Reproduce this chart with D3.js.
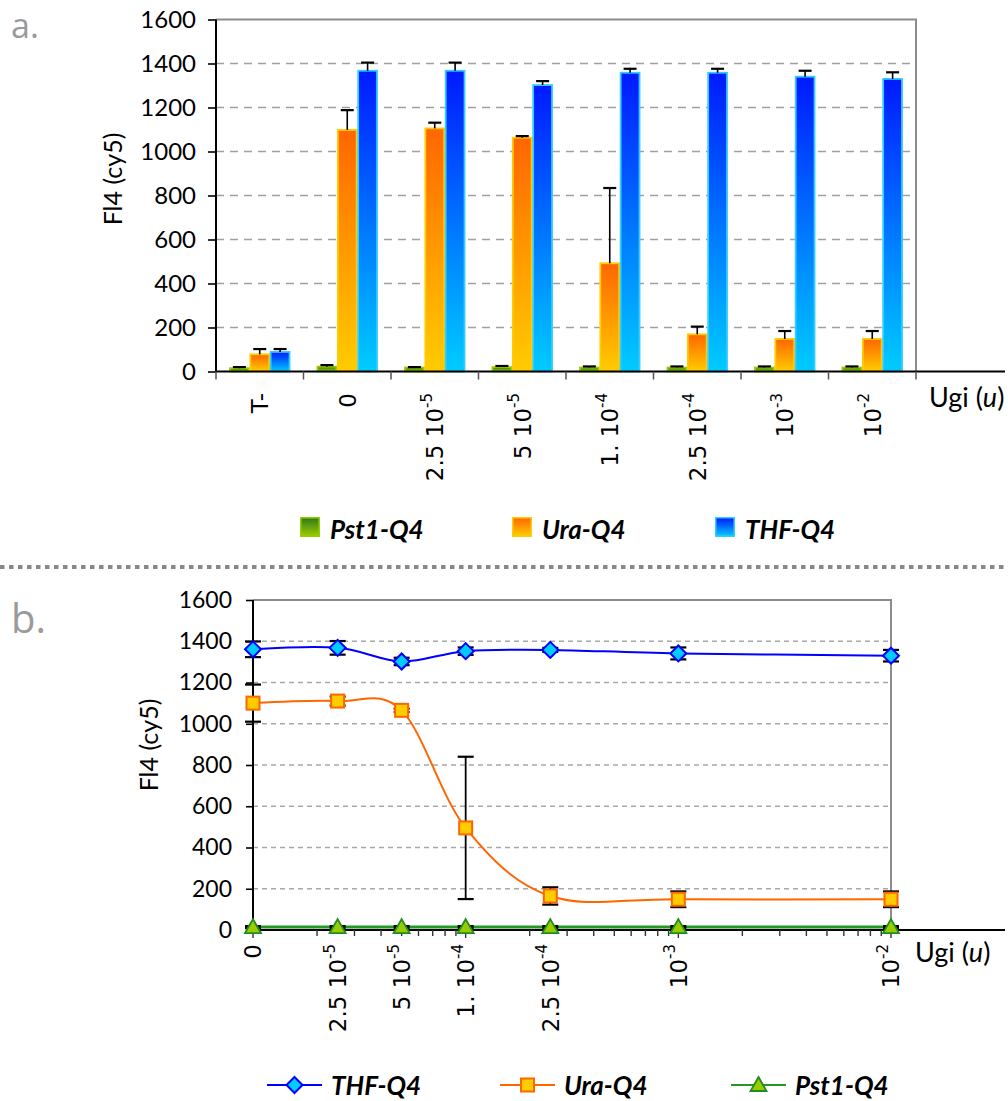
<!DOCTYPE html>
<html>
<head>
<meta charset="utf-8">
<script src="https://cdn.jsdelivr.net/npm/d3@7"></script>
<style>
  html, body { margin: 0; padding: 0; background: #fff; }
  svg { display: block; }
</style>
</head>
<body>
<svg id="chart" width="1008" height="1101"></svg>
<script>
// ---------------- DATA ----------------
// Panel a (bar chart)
const categoriesA = ["T-", "0", "2.5e-5", "5e-5", "1e-4", "2.5e-4", "1e-3", "1e-2"];
const labelBaseA  = ["T-", "0", "2.5 10", "5 10", "1. 10", "2.5 10", "10", "10"];
const labelExpA   = ["", "", "-5", "-5", "-4", "-4", "-3", "-2"];
const seriesNamesA = ["Pst1-Q4", "Ura-Q4", "THF-Q4"];
const pst1A    = [15, 22, 18, 20, 18, 18, 18, 18];
const pst1ErrA = [5, 7, 2, 5, 5, 5, 5, 5];
const uraA     = [78, 1098, 1105, 1063, 492, 169, 148, 148];
const uraErrA  = [24, 90, 26, 7, 342, 35, 36, 36];
const thfA     = [89, 1367, 1367, 1302, 1358, 1358, 1340, 1330];
const thfErrA  = [13, 37, 37, 18, 18, 18, 27, 30];

// Panel b (line chart, log x; "0" drawn at 1e-5)
const xValuesB  = [1e-5, 2.5e-5, 5e-5, 1e-4, 2.5e-4, 1e-3, 1e-2];
const labelBaseB = ["0", "2.5 10", "5 10", "1. 10", "2.5 10", "10", "10"];
const labelExpB  = ["", "-5", "-5", "-4", "-4", "-3", "-2"];
const thfB     = [1361, 1368, 1302, 1352, 1358, 1341, 1330];
const thfErrB  = [38, 33, 18, 18, 10, 29, 28];
const uraB     = [1100, 1110, 1065, 495, 165, 149, 149];
const uraErrB  = [90, 22, 8, 345, 42, 38, 38];
const pst1B    = [14, 14, 14, 14, 14, 14, 14];
const pst1ErrB = [5, 5, 5, 5, 5, 5, 5];

const yTicks = [0, 200, 400, 600, 800, 1000, 1200, 1400, 1600];

// ---------------- SETUP ----------------
const svg = d3.select("#chart");
const defs = svg.append("defs");
function grad(id, top, bottom) {
  const g = defs.append("linearGradient").attr("id", id)
    .attr("x1", 0).attr("y1", 0).attr("x2", 0).attr("y2", 1);
  g.append("stop").attr("offset", "0%").attr("stop-color", top);
  g.append("stop").attr("offset", "100%").attr("stop-color", bottom);
}
grad("gGreen", "#2f7a1c", "#99cc00");
grad("gOrange", "#ff6600", "#ffcc00");
grad("gBlue", "#0019ff", "#00ccff");
const fills = ["url(#gGreen)", "url(#gOrange)", "url(#gBlue)"];
const strokes = ["#99cc00", "#ffcc00", "#33ccff"];

const font = "Lato, 'Open Sans', sans-serif";
const tickFont = "'DejaVu Sans', Verdana, sans-serif";

// panel letters
svg.append("text").attr("x", 11).attr("y", 38).text("a.")
  .attr("font-family", "'Open Sans', sans-serif").attr("font-size", 34).attr("fill", "#9a9a9a");
svg.append("text").attr("x", 11).attr("y", 633).text("b.")
  .attr("font-family", "'Open Sans', sans-serif").attr("font-size", 40).attr("fill", "#9a9a9a");

// separator
svg.append("line").attr("x1", 0).attr("x2", 1008).attr("y1", 567).attr("y2", 567)
  .attr("stroke", "#888").attr("stroke-width", 4).attr("stroke-dasharray", "4.5,4.5");

// ---------------- PANEL A ----------------
const ax0 = 216, ax1 = 916, ayTop = 19.5, ayBot = 371.5;
const xA = d3.scaleBand().domain(categoriesA).range([ax0, ax1]).padding(0);
const xInner = d3.scaleBand().domain(seriesNamesA).range([0, xA.bandwidth()]).paddingInner(0).paddingOuter(0.65);
const yA = d3.scaleLinear().domain([0, 1600]).range([ayBot, ayTop]);
const gA = svg.append("g");

// gridlines
gA.append("g").selectAll("line").data(yTicks.filter(d => d > 0 && d < 1600)).join("line")
  .attr("x1", ax0).attr("x2", ax1).attr("y1", d => yA(d)).attr("y2", d => yA(d))
  .attr("stroke", "#a0a0a0").attr("stroke-width", 1.3).attr("stroke-dasharray", "8,6");
// top & right border
gA.append("path").attr("d", `M${ax0},${ayTop}H${ax1}V${ayBot}`)
  .attr("fill", "none").attr("stroke", "#8c8c8c").attr("stroke-width", 2);

// bars
const seriesA = [
  { name: seriesNamesA[0], vals: pst1A, errs: pst1ErrA },
  { name: seriesNamesA[1], vals: uraA, errs: uraErrA },
  { name: seriesNamesA[2], vals: thfA, errs: thfErrA }
];
seriesA.forEach((s, si) => {
  const g = gA.append("g");
  const data = categoriesA.map((c, i) => ({ c, v: s.vals[i], e: s.errs[i] }));
  g.selectAll("rect").data(data).join("rect")
    .attr("x", d => xA(d.c) + xInner(s.name) + 0.75)
    .attr("width", xInner.bandwidth() - 1.5)
    .attr("y", d => yA(d.v))
    .attr("height", d => ayBot - yA(d.v))
    .attr("fill", fills[si]).attr("stroke", strokes[si]).attr("stroke-width", 1.8);
  const cx = d => xA(d.c) + xInner(s.name) + xInner.bandwidth() / 2;
  g.selectAll("line.v").data(data).join("line").attr("class", "v")
    .attr("x1", cx).attr("x2", cx).attr("y1", d => yA(d.v)).attr("y2", d => yA(d.v + d.e))
    .attr("stroke", "#000").attr("stroke-width", 1.6);
  g.selectAll("line.c").data(data).join("line").attr("class", "c")
    .attr("x1", d => cx(d) - 6.5).attr("x2", d => cx(d) + 6.5)
    .attr("y1", d => yA(d.v + d.e)).attr("y2", d => yA(d.v + d.e))
    .attr("stroke", "#000").attr("stroke-width", 2.2);
});

// y axis
const yAxisA = gA.append("g").attr("transform", `translate(${ax0},0)`)
  .call(d3.axisLeft(yA).tickValues(yTicks).tickSize(8).tickPadding(12).tickFormat(d3.format("d")));
yAxisA.select(".domain").attr("stroke", "#000").attr("stroke-width", 2).attr("d", `M-0,${ayTop}V${ayBot}`);
yAxisA.selectAll(".tick line").attr("stroke", "#000").attr("stroke-width", 1.6);
yAxisA.selectAll("text").attr("font-family", font).attr("font-size", 24).attr("fill", "#000");

// x axis line
gA.append("line").attr("x1", ax0).attr("x2", 1005).attr("y1", ayBot).attr("y2", ayBot)
  .attr("stroke", "#000").attr("stroke-width", 2);
// category boundary ticks
const bounds = categoriesA.map(c => xA(c)).concat([ax1]);
gA.append("g").selectAll("line").data(bounds).join("line")
  .attr("x1", d => d).attr("x2", d => d).attr("y1", ayBot).attr("y2", ayBot + 8)
  .attr("stroke", "#555").attr("stroke-width", 1.5);

// x labels (rotated)
function rotLabel(g, x, yTop, base, exp) {
  const t = g.append("text")
    .attr("transform", `translate(${x},${yTop}) rotate(-90)`)
    .attr("text-anchor", "end").attr("dy", "0.36em")
    .attr("font-family", tickFont).attr("font-size", 23).attr("fill", "#000");
  t.append("tspan").text(base);
  if (exp) t.append("tspan").attr("font-size", 15).attr("dy", "-0.75em").text(exp);
}
categoriesA.forEach((c, i) => {
  rotLabel(gA, xA(c) + xA.bandwidth() / 2, 393, labelBaseA[i], labelExpA[i]);
});

// Ugi (u)
function ugi(g, x, y) {
  const t = g.append("text").attr("x", x).attr("y", y)
    .attr("font-family", font).attr("font-size", 27).attr("fill", "#000");
  t.append("tspan").text("Ugi (");
  t.append("tspan").attr("font-style", "italic").text("u");
  t.append("tspan").text(")");
}
ugi(gA, 929, 407);

// y label
gA.append("text").attr("transform", "translate(122,179) rotate(-90)")
  .attr("text-anchor", "middle").attr("font-family", font).attr("font-size", 25)
  .text("Fl4 (cy5)");

// legend a
const legA = [
  { name: "Pst1-Q4", fill: fills[0], stroke: strokes[0], x: 300 },
  { name: "Ura-Q4", fill: fills[1], stroke: strokes[1], x: 512 },
  { name: "THF-Q4", fill: fills[2], stroke: strokes[2], x: 715 }
];
legA.forEach(l => {
  gA.append("rect").attr("x", l.x + 0.75).attr("y", 517.75).attr("width", 18.5).attr("height", 18.5)
    .attr("fill", l.fill).attr("stroke", l.stroke).attr("stroke-width", 1.5);
  gA.append("text").attr("x", l.x + 30).attr("y", 539).text(l.name)
    .attr("font-family", font).attr("font-size", 26).attr("font-weight", "bold")
    .attr("font-style", "italic").attr("fill", "#000");
});

// ---------------- PANEL B ----------------
const bx0 = 253, bx1 = 891, byTop = 600, byBot = 930;
const xB = d3.scaleLog().domain([1e-5, 1e-2]).range([bx0, bx1]);
const yB = d3.scaleLinear().domain([0, 1600]).range([byBot, byTop]);
const gB = svg.append("g");

gB.append("g").selectAll("line").data(yTicks.filter(d => d > 0 && d < 1600)).join("line")
  .attr("x1", bx0).attr("x2", bx1).attr("y1", d => yB(d)).attr("y2", d => yB(d))
  .attr("stroke", "#a8a8a8").attr("stroke-width", 1.3).attr("stroke-dasharray", "5,4");
gB.append("path").attr("d", `M${bx0},${byTop}H${bx1}V${byBot}`)
  .attr("fill", "none").attr("stroke", "#8c8c8c").attr("stroke-width", 2);

// y axis
const yAxisB = gB.append("g").attr("transform", `translate(${bx0},0)`)
  .call(d3.axisLeft(yB).tickValues(yTicks).tickSize(7).tickPadding(14).tickFormat(d3.format("d")));
yAxisB.select(".domain").attr("stroke", "#000").attr("stroke-width", 2).attr("d", `M-0,${byTop}V${byBot}`);
yAxisB.selectAll(".tick line").attr("stroke", "#000").attr("stroke-width", 1.6);
yAxisB.selectAll("text").attr("font-family", font).attr("font-size", 23).attr("fill", "#000");

// x axis line and log ticks
gB.append("line").attr("x1", bx0).attr("x2", 1005).attr("y1", byBot).attr("y2", byBot)
  .attr("stroke", "#000").attr("stroke-width", 2);
const logTicks = xB.ticks();
gB.append("g").selectAll("line").data(logTicks).join("line")
  .attr("x1", d => xB(d)).attr("x2", d => xB(d)).attr("y1", byBot)
  .attr("y2", d => byBot + (Math.abs(Math.log10(d) - Math.round(Math.log10(d))) < 1e-9 ? 8 : 6))
  .attr("stroke", "#333").attr("stroke-width", 1.4);

// x labels
xValuesB.forEach((v, i) => rotLabel(gB, xB(v), 944, labelBaseB[i], labelExpB[i]));
ugi(gB, 915, 962);

gB.append("text").attr("transform", "translate(158,745) rotate(-90)")
  .attr("text-anchor", "middle").attr("font-family", font).attr("font-size", 25)
  .text("Fl4 (cy5)");

// series lines
const seriesB = [
  { name: "Pst1-Q4", vals: pst1B, errs: pst1ErrB, line: "#229922", width: 3, shape: "tri", fill: "#99cc00", mstroke: "#228b22" },
  { name: "Ura-Q4", vals: uraB, errs: uraErrB, line: "#ff6600", width: 2, shape: "sq", fill: "#ffcc00", mstroke: "#ff6600" },
  { name: "THF-Q4", vals: thfB, errs: thfErrB, line: "#0000ff", width: 2, shape: "dia", fill: "#00ccff", mstroke: "#0000ff" }
];
function marker(g, shape, x, y, fill, stroke) {
  if (shape === "dia") {
    g.append("path").attr("d", `M${x},${y - 8}L${x + 8},${y}L${x},${y + 8}L${x - 8},${y}Z`)
      .attr("fill", fill).attr("stroke", stroke).attr("stroke-width", 2);
  } else if (shape === "sq") {
    g.append("rect").attr("x", x - 6.5).attr("y", y - 6.5).attr("width", 13).attr("height", 13)
      .attr("fill", fill).attr("stroke", stroke).attr("stroke-width", 2);
  } else {
    g.append("path").attr("d", `M${x},${y - 8}L${x + 8},${y + 6}L${x - 8},${y + 6}Z`)
      .attr("fill", fill).attr("stroke", stroke).attr("stroke-width", 1.8);
  }
}
const lineGen = d3.line().x(d => xB(d.x)).y(d => yB(d.v)).curve(d3.curveCardinal.tension(0));
seriesB.forEach(s => {
  const data = xValuesB.map((x, i) => ({ x, v: s.vals[i], e: s.errs[i] }));
  gB.append("path").datum(data).attr("d", lineGen)
    .attr("fill", "none").attr("stroke", s.line).attr("stroke-width", s.width);
  const eg = gB.append("g");
  data.forEach(d => {
    const cx = xB(d.x);
    eg.append("line").attr("x1", cx).attr("x2", cx).attr("y1", yB(d.v - d.e)).attr("y2", yB(d.v + d.e))
      .attr("stroke", "#000").attr("stroke-width", 1.8);
    [d.v - d.e, d.v + d.e].forEach(v => {
      eg.append("line").attr("x1", cx - 8).attr("x2", cx + 8).attr("y1", yB(v)).attr("y2", yB(v))
        .attr("stroke", "#000").attr("stroke-width", 2.2);
    });
  });
  data.forEach(d => marker(gB, s.shape, xB(d.x), yB(d.v), s.fill, s.mstroke));
});

// legend b
const legB = [
  { s: seriesB[2], x: 267 },
  { s: seriesB[1], x: 500 },
  { s: seriesB[0], x: 731 }
];
legB.forEach(l => {
  const y = 1085;
  gB.append("line").attr("x1", l.x).attr("x2", l.x + 55).attr("y1", y).attr("y2", y)
    .attr("stroke", l.s.line).attr("stroke-width", 2);
  marker(gB, l.s.shape, l.x + 27.5, y, l.s.fill, l.s.mstroke);
  gB.append("text").attr("x", l.x + 64).attr("y", y + 10).text(l.s.name)
    .attr("font-family", font).attr("font-size", 26).attr("font-weight", "bold")
    .attr("font-style", "italic").attr("fill", "#000");
});
</script>
</body>
</html>
